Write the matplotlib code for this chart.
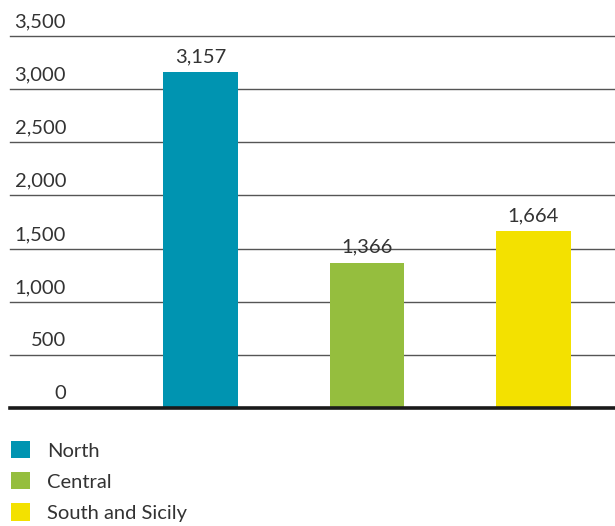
import matplotlib.pyplot as plt
from matplotlib.transforms import blended_transform_factory

regions = ["North", "Central", "South and Sicily"]
values = [3157, 1366, 1664]
colors = ["#0094B1", "#95BE3E", "#F3E100"]
y_ticks = [0, 500, 1000, 1500, 2000, 2500, 3000, 3500]

plt.rcParams['font.family'] = ['Lato', 'DejaVu Sans']
text_color = "#333333"
fs = 14.5

W, H = 615, 526
fig = plt.figure(figsize=(W / 100, H / 100), dpi=100)
ax = fig.add_axes([10 / W, (H - 408) / H, 605 / W, (408 - 36) / H])

x = list(range(len(regions)))
bars = ax.bar(x, values, width=0.45, color=colors, zorder=3)

ax.set_xlim((10 - 200.5) / 166.5, (615 - 200.5) / 166.5)
ax.set_ylim(0, 3500)

# gridlines
for t in y_ticks:
    if t == 0:
        ax.axhline(t, color="#1a1a1a", lw=2.6, zorder=4, clip_on=False)
    else:
        ax.axhline(t, color="#555555", lw=1.0, zorder=1, clip_on=False)

# y labels sitting on top of the gridlines
trans = blended_transform_factory(fig.transFigure, ax.transData)
for t in y_ticks:
    ax.annotate(f"{t:,}", xy=(66 / W, t), xycoords=trans, xytext=(0, 4),
                textcoords="offset points", ha="right", va="bottom",
                fontsize=fs, color=text_color)

# value labels
for xi, v in zip(x, values):
    ax.annotate(f"{v:,}", xy=(xi, v), xytext=(0, 5), textcoords="offset points",
                ha="center", va="bottom", fontsize=fs, color=text_color)

for s in ax.spines.values():
    s.set_visible(False)
ax.set_xticks([])
ax.set_yticks([])

leg = fig.legend(handles=list(bars), labels=regions, loc="upper left",
                 bbox_to_anchor=(11 / W, 1 - 441 / H), frameon=False,
                 fontsize=fs, handlelength=0.95, handleheight=0.95,
                 handletextpad=0.85, labelspacing=0.62, borderpad=0,
                 borderaxespad=0)
for t in leg.get_texts():
    t.set_color(text_color)

fig.savefig("out.png", dpi=100)
